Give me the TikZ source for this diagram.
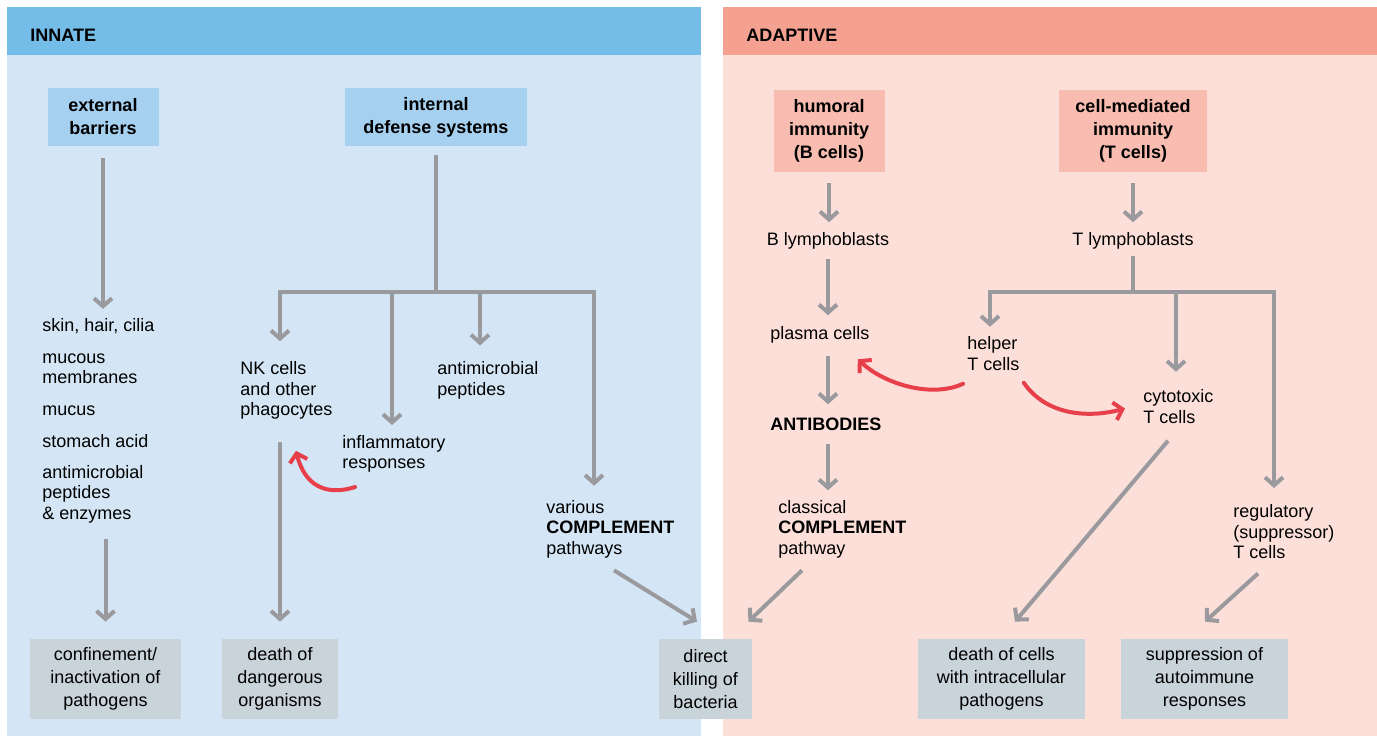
\documentclass[tikz,border=0pt]{standalone}
\usepackage{fontspec}
\setmainfont{Liberation Sans}
\usetikzlibrary{arrows.meta,calc}

\definecolor{innhead}{HTML}{74BDE8}
\definecolor{innback}{HTML}{D4E6F5}
\definecolor{innbox}{HTML}{A6D0F0}
\definecolor{adahead}{HTML}{F5A191}
\definecolor{adaback}{HTML}{FCDFD8}
\definecolor{adabox}{HTML}{F8BDB0}
\definecolor{endgray}{HTML}{C9D3DA}
\definecolor{arrgray}{HTML}{9A9A9E}
\definecolor{arrred}{HTML}{E8404B}

\begin{document}
\begin{tikzpicture}[x=0.5pt, y=-0.5pt,
    every node/.style={inner sep=0pt, font=\fontsize{9}{10.25}\selectfont},
    panelhead/.style={anchor=west, font=\fontsize{9}{10.25}\selectfont\bfseries},
    headbox/.style={align=center, minimum height=29pt, font=\fontsize{9}{11.5}\selectfont\bfseries},
    txt/.style={anchor=west, align=left},
    endbox/.style={fill=endgray, align=center, minimum height=40pt, font=\fontsize{9}{11.5}\selectfont},
    gline/.style={draw=arrgray, line width=2pt},
    garrow/.style={gline, -{Straight Barb[length=4pt,width=9pt]}},
    rarrow/.style={draw=arrred, line width=2pt, line cap=round, -{Straight Barb[length=4pt,width=9pt]}}]
    \useasboundingbox (0,0) rectangle (1377,736);

    % two panels
    \fill[innback] (7,7) rectangle (701,736);
    \fill[innhead] (7,7) rectangle (701,55);
    \fill[adaback] (723,7) rectangle (1377,736);
    \fill[adahead] (723,7) rectangle (1377,55);
    \node[panelhead] (innate) at (30,35) {INNATE};
    \node[panelhead] (adaptive) at (746,35) {ADAPTIVE};

    % innate side
    \node[headbox, fill=innbox, minimum width=55.5pt] (ext) at (103,117) {external\\barriers};
    \node[headbox, fill=innbox, minimum width=91pt] (int) at (436,117) {internal\\defense systems};

    \node[txt] (skin) at (42,326.5) {skin, hair, cilia};
    \node[txt] (mucm) at (42,368.5) {mucous\\membranes};
    \node[txt] (mucus) at (42,410.5) {mucus};
    \node[txt] (acid) at (42,441.5) {stomach acid};
    \node[txt] (pept) at (42,494) {antimicrobial\\peptides\\\& enzymes};

    \node[txt] (nk) at (240,390.5) {NK cells\\and other\\phagocytes};
    \node[txt] (infl) at (342,454) {inflammatory\\responses};
    \node[txt] (amp) at (437,380.5) {antimicrobial\\peptides};
    \node[txt] (var) at (546,529) {various\\\textbf{COMPLEMENT}\\pathways};

    \node[endbox, minimum width=75.5pt] (conf) at (105.5,679) {confinement/\\inactivation of\\pathogens};
    \node[endbox, minimum width=58pt] (dng) at (280,679) {death of\\dangerous\\organisms};
    \node[endbox, minimum width=46.5pt] (kill) at (705.5,679) {direct\\killing of\\bacteria};

    \draw[garrow, shorten <=6pt, shorten >=4.75pt] (ext.south) -- (ext.south |- skin.north);
    \draw[garrow, shorten <=8pt, shorten >=8.5pt] (conf.north |- pept.south) -- (conf.north);

    \coordinate (ib) at (436,292);
    \coordinate (b1) at (280,292);
    \coordinate (b2) at (392,292);
    \coordinate (b3) at (480,292);
    \coordinate (b4) at (594,292);
    \draw[gline, shorten <=4.5pt] (int.south) -- (ib);
    \draw[gline, line cap=rect] (b1) -- (b4);
    \foreach \b/\t/\s in {b1/nk/10pt, b2/infl/5pt, b3/amp/8pt, b4/var/7pt}
        \draw[garrow, shorten >=\s] (\b) -- (\b |- \t.north);
    \draw[garrow, shorten <=11pt, shorten >=8.5pt] (dng.north |- nk.south) -- (dng.north);
    \draw[rarrow] ($(infl.south west)+(13,14)$) .. controls +(-32,10) and +(8,32) .. ($(nk.south west)+(56,31)$);
    \draw[garrow] ($(var.south west)+(68,12)$) -- ($(kill.north)+(-8.5,-17)$);

    % adaptive side
    \node[headbox, fill=adabox, minimum width=55.5pt, minimum height=41pt] (hum) at (829,131) {humoral\\immunity\\(B cells)};
    \node[headbox, fill=adabox, minimum width=74pt, minimum height=41pt] (cmi) at (1133,131) {cell-mediated\\immunity\\(T cells)};

    \node (blym) at (828,240.5) {B lymphoblasts};
    \node[txt] (plas) at (770,334.5) {plasma cells};
    \node[txt, font=\fontsize{9}{10.25}\selectfont\bfseries] (abs) at (770,424) {ANTIBODIES};
    \node[txt] (clas) at (778,529) {classical\\\textbf{COMPLEMENT}\\pathway};

    \node (tlym) at (1133,240.5) {T lymphoblasts};
    \node[txt] (help) at (967,353.5) {helper\\T cells};
    \node[txt] (cyto) at (1143,406.5) {cytotoxic\\T cells};
    \node[txt] (regu) at (1233,532) {regulatory\\(suppressor)\\T cells};

    \node[endbox, minimum width=83.5pt] (dcell) at (1001.5,679) {death of cells\\with intracellular\\pathogens};
    \node[endbox, minimum width=83.5pt] (supp) at (1204.5,679) {suppression of\\autoimmune\\responses};

    \draw[garrow, shorten <=5.5pt, shorten >=4.75pt] (hum.south) -- (hum.south |- blym.north);
    \draw[garrow, shorten <=4.75pt, shorten >=5.25pt] (blym.south) -- (blym.south |- plas.north);
    \draw[garrow, shorten <=6.5pt, shorten >=6.5pt] (blym.south |- plas.south) -- (blym.south |- abs.north);
    \draw[garrow, shorten <=6.5pt, shorten >=4.75pt] (blym.south |- abs.south) -- (blym.south |- clas.north);
    \draw[garrow] ($(clas.south west)+(24,12)$) -- ($(kill.north east)+(-4,-17)$);

    \coordinate (tb) at (1133,292);
    \coordinate (t1) at (990,292);
    \coordinate (t2) at (1176,292);
    \coordinate (t3) at (1274,292);
    \draw[garrow, shorten <=5.5pt, shorten >=4.75pt] (cmi.south) -- (cmi.south |- tlym.north);
    \draw[gline, shorten <=3.25pt] (tlym.south) -- (tb);
    \draw[gline, line cap=rect] (t1) -- (t3);
    \foreach \b/\t/\s in {t1/help/4.75pt, t2/cyto/8.75pt, t3/regu/8.25pt}
        \draw[garrow, shorten >=\s] (\b) -- (\b |- \t.north);

    \draw[rarrow] ($(help.south west)+(-4,13)$) .. controls +(-30,14) and +(28,26) .. ($(plas.south east)+(-12,16)$);
    \draw[rarrow] ($(help.south east)+(4,12)$) .. controls +(22,32) and +(-38,10) .. ($(cyto.west)+(-18,2)$);
    \draw[garrow] ($(cyto.south west)+(25,17)$) -- ($(dcell.north)+(13.5,-17)$);
    \draw[garrow] ($(regu.south west)+(25,14)$) -- ($(supp.north)+(0.5,-17)$);
\end{tikzpicture}
\end{document}
